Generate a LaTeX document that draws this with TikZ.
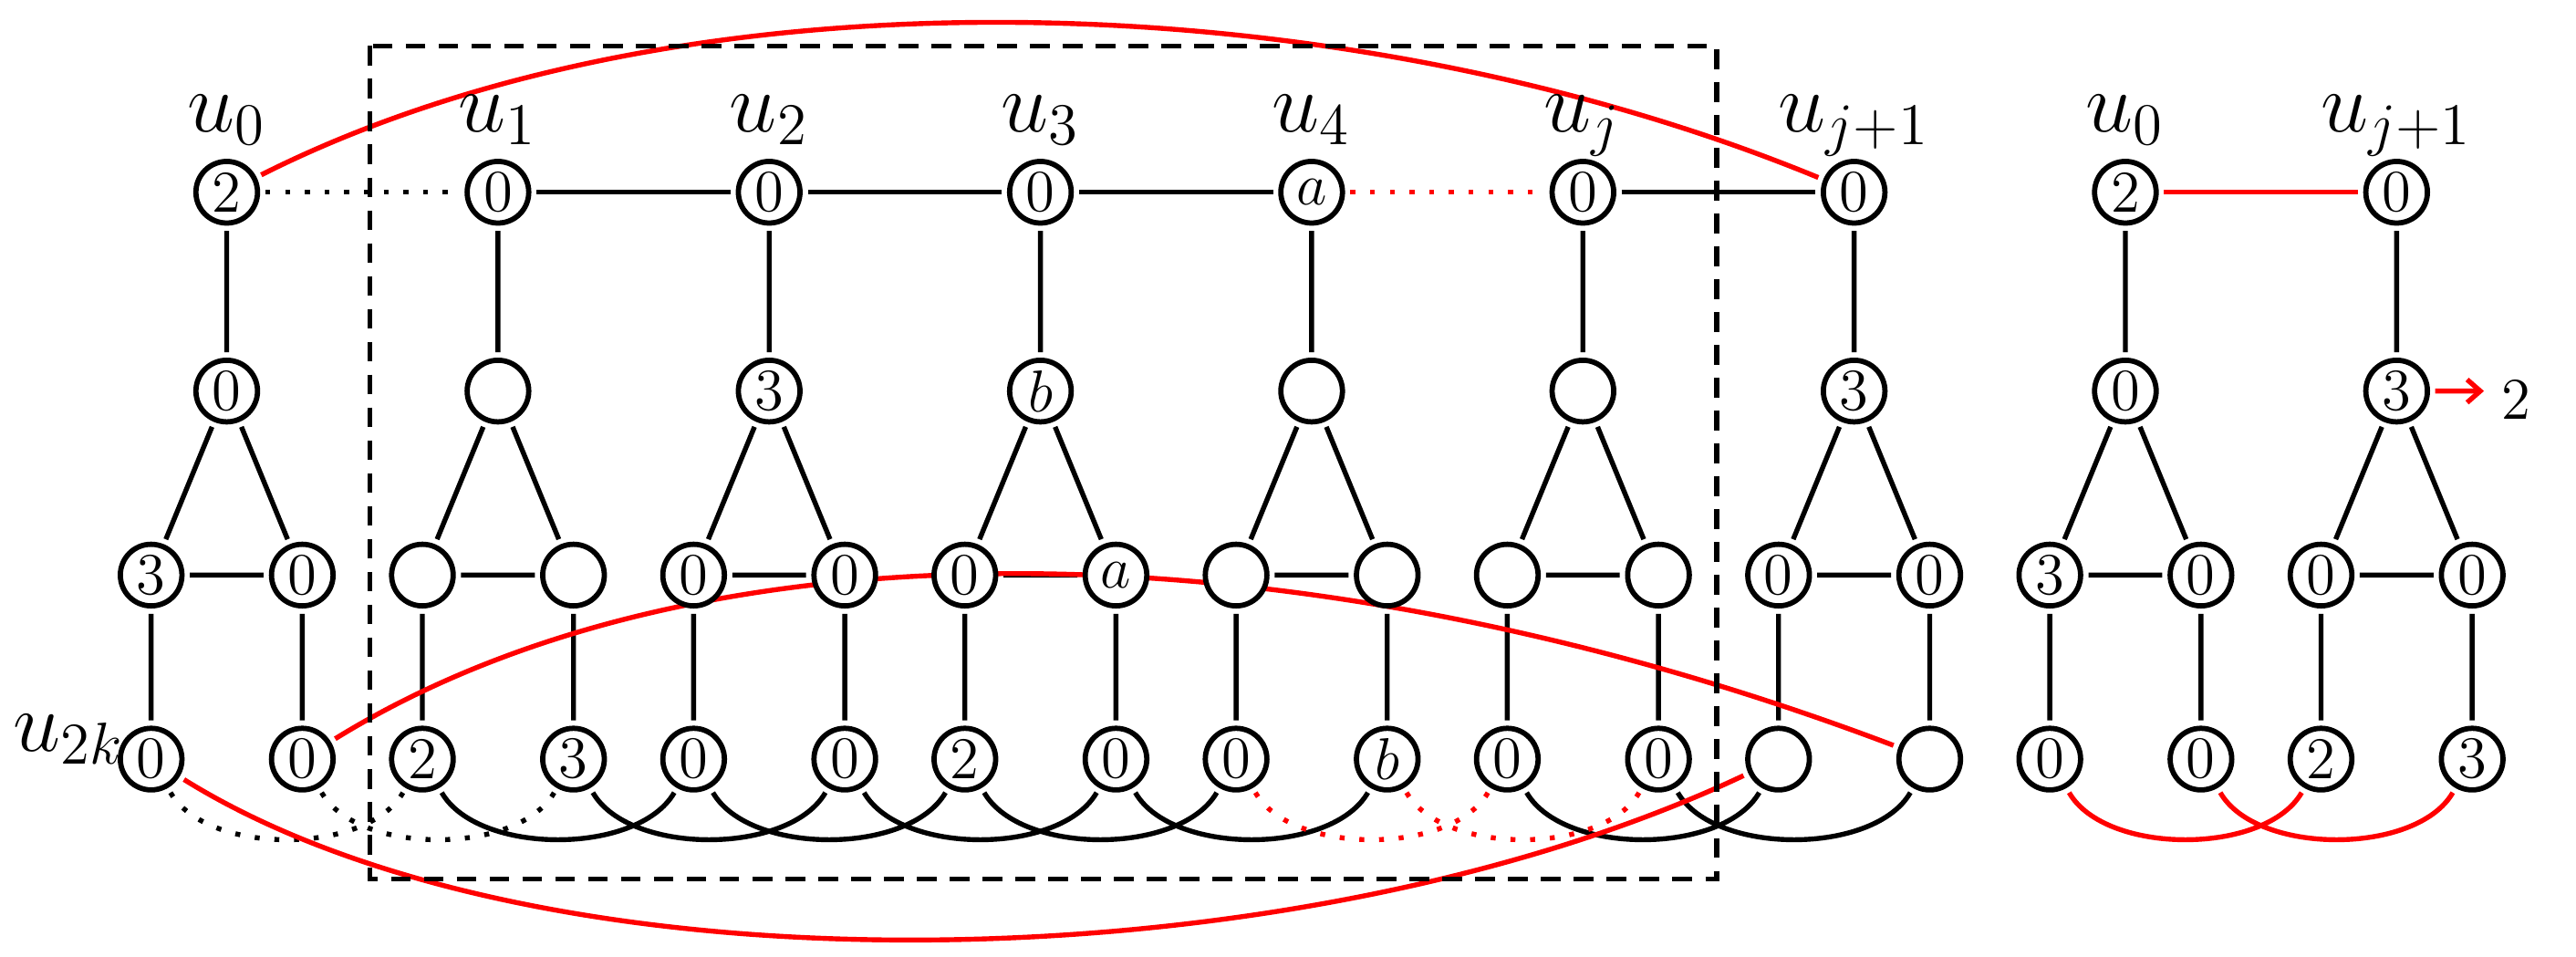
\documentclass[tikz,border=0pt]{standalone}
\usetikzlibrary{arrows.meta}
\begin{document}
\begin{tikzpicture}[x=0.33333pt,y=-0.33333pt,scale=3,transform shape,
  vx/.style={circle,draw,line width=3.2pt,fill=white,minimum size=12.5pt,inner sep=0pt,font=\large},
  lab/.style={font=\LARGE},
  ed/.style={line width=3pt},
  red/.style={draw=red,line width=3pt},
  dotb/.style={line width=3pt,dash pattern=on 3pt off 9pt},
  dotr/.style={draw=red,line width=3pt,dash pattern=on 3pt off 9pt},
  arcd/.style={out=-60,in=-120,looseness=0.8}]
\useasboundingbox (0,0) rectangle (1568,582);
\definecolor{red}{RGB}{255,0,0}
\def\E{\phantom{0}}
\foreach \i/\t/\m/\tl/\tr/\bl/\br in {
 0/2/0/3/0/0/0,
 1/0/\E/\E/\E/2/3,
 2/0/3/0/0/0/0,
 3/0/$b$/0/$a$/2/0,
 4/$a$/\E/\E/\E/0/$b$,
 5/0/\E/\E/\E/0/0,
 6/0/3/0/0/\E/\E,
 7/2/0/3/0/0/0,
 8/0/3/0/0/2/3}{
  \pgfmathsetmacro\cx{138+165.1*\i}
  \node[vx] (t\i) at (\cx,117) {\t};
  \node[vx] (m\i) at (\cx,238) {\m};
  \node[vx] (l\i) at (\cx-46,350) {\tl};
  \node[vx] (r\i) at (\cx+46,350) {\tr};
  \node[vx] (L\i) at (\cx-46,462) {\bl};
  \node[vx] (R\i) at (\cx+46,462) {\br};
}
\pgfdeclarelayer{bg}\pgfsetlayers{bg,main}
\begin{pgfonlayer}{bg}
\foreach \i in {0,...,8}{
  \draw[ed] (t\i)--(m\i) (m\i)--(l\i) (m\i)--(r\i) (l\i)--(r\i) (l\i)--(L\i) (r\i)--(R\i);
}
\draw[dotb] (t0)--(t1);
\draw[ed] (t1)--(t2)--(t3)--(t4) (t5)--(t6);
\draw[dotr] (t4)--(t5);
\draw[red] (t7)--(t8);
\draw[dotb] (L0) to[arcd] (L1);
\draw[dotb] (R0) to[arcd] (R1);
\foreach \a/\b in {1/2,2/3,3/4,5/6}{
  \draw[ed] (L\a) to[arcd] (L\b);
  \draw[ed] (R\a) to[arcd] (R\b);
}
\draw[dotr] (L4) to[arcd] (L5);
\draw[dotr] (R4) to[arcd] (R5);
\draw[red] (L7) to[arcd] (L8);
\draw[red] (R7) to[arcd] (R8);
\draw[red] (t0) .. controls (420,-25) and (820,-10) .. (t6);
\draw[red] (R0) .. controls (430,310) and (800,320) .. (R6);
\draw[red] (L0) .. controls (330,610) and (790,600) .. (L6);
\end{pgfonlayer}
\coordinate (ae) at (1512,238);
\draw[red,-{Straight Barb[length=8pt,width=14pt]}] (m8) -- (ae);
\node[font=\large,anchor=west] (two) at (1512,243) {2};
\foreach \i/\s in {0/u_0,1/u_1,2/u_2,3/u_3,4/u_4,5/u_j,6/u_{j+1},7/u_0,8/u_{j+1}}{
  \node[lab,anchor=base] (lab\i) at (t\i.north |- 0,80) {$\s$};
}
\node[lab,anchor=east] (u2k) at ([xshift=6pt,yshift=4pt]L0.west) {$u_{2k}$};
\draw[line width=3pt,dash pattern=on 12pt off 8pt] (225,28) rectangle (1045,535);
\end{tikzpicture}
\end{document}
